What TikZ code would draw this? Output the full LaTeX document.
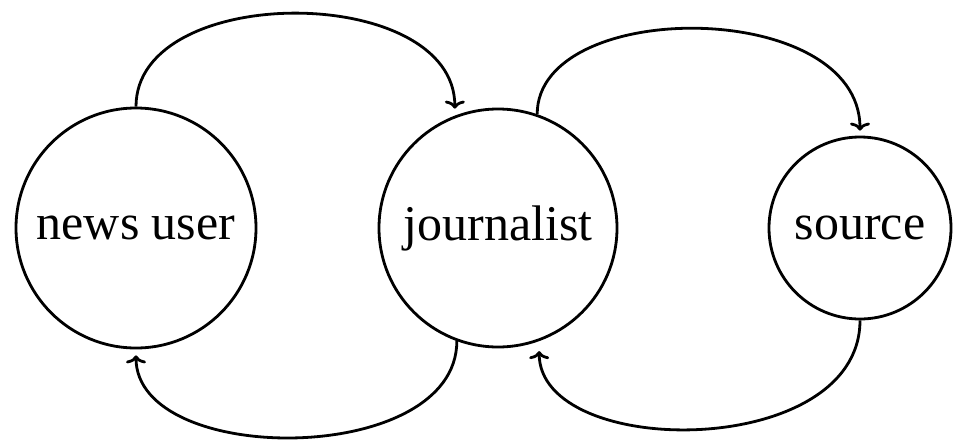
\documentclass[tikz,border=0pt]{standalone}
\usepackage{fontspec}
\setmainfont{Liberation Serif}
\usetikzlibrary{arrows.meta}
\begin{document}
\begin{tikzpicture}[x=1pt,y=-1pt,
  every node/.style={font=\fontsize{50}{60}\selectfont},
  actor/.style={draw, circle, line width=2.8pt, inner sep=0pt},
  flow/.style={line width=2.8pt, -{Computer Modern Rightarrow[length=8pt,width=20pt]}}]
\useasboundingbox (0,0) rectangle (954,440);
\node[actor, minimum size=240pt] (nu) at (136,228) {news user};
\node[actor, minimum size=238pt] (jo) at (498,228) {journalist};
\node[actor, minimum size=182pt] (src) at (860,228) {source};
\draw[flow, shorten >=7pt] (nu.north) .. controls +(0,-125) and +(0,-133) .. (jo.111);
\draw[flow, shorten >=5pt] (jo.71) .. controls +(0,-117) and +(0,-138) .. (src.north);
\draw[flow, shorten >=6pt] (jo.250) .. controls +(0,126) and +(0,118) .. (nu.south);
\draw[flow, shorten >=10pt] (src.south) .. controls +(0,140) and +(0,119) .. (jo.290);
\end{tikzpicture}
\end{document}
